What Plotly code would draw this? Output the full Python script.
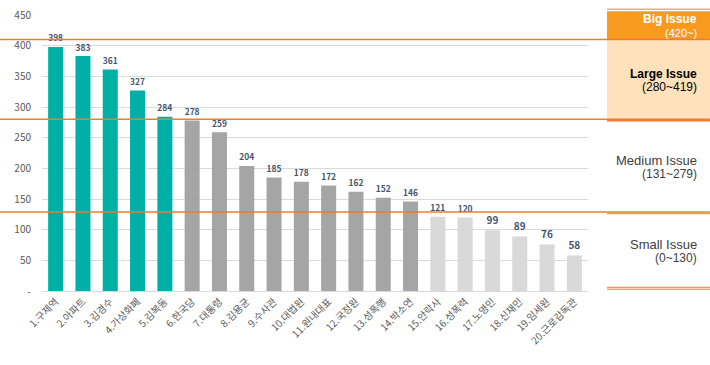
import plotly.graph_objects as go

categories = ["1.구제역", "2.아파트", "3.김경수", "4.가상화폐", "5.김복동", "6.한국당", "7.대통령",
              "8.김용균", "9.수사관", "10.대법원", "11.원내대표", "12.국정원", "13.성폭행", "14.박소연",
              "15.안락사", "16.성폭력", "17.노영민", "18.신재민", "19.임세원", "20.근로감독관"]
values = [398, 383, 361, 327, 284, 278, 259, 204, 185, 178, 172, 162, 152, 146, 121, 120, 99, 89, 76, 58]
levels = ["large"] * 5 + ["medium"] * 9 + ["small"] * 6
level_colors = {"large": "#00B0A6", "medium": "#A5A5A5", "small": "#D9D9D9"}
y_ticks = [0, 50, 100, 150, 200, 250, 300, 350, 400, 450]
y_ticktext = ["-"] + [str(v) for v in y_ticks[1:]]
Y_MAX = 450

FONT = "Noto Sans CJK KR"
PFONT = "Liberation Sans"
ORANGE = "#ED7D31"

fig = go.Figure()
fig.add_trace(go.Bar(
    x=categories, y=values,
    marker=dict(color=[level_colors[l] for l in levels], line=dict(width=0)),
    text=[str(v) for v in values], textposition="outside",
    textfont=dict(family=FONT, size=10, color="#44546A", weight="bold"),
    cliponaxis=False, hoverinfo="skip",
))

PX0 = 1.0348   # panel left (paper)
PX1 = 1.2234   # panel right (paper)
XL = -0.0769   # figure left edge (paper)

def p(v):
    return v / Y_MAX

def hline(x0, x1, v, width, color=ORANGE):
    return dict(type="line", xref="paper", yref="paper", x0=x0, x1=x1, y0=p(v), y1=p(v),
                line=dict(color=color, width=width))

shapes = [
    dict(type="rect", xref="paper", yref="paper", x0=PX0, x1=PX1, y0=p(410), y1=p(456),
         fillcolor="#F89A1E", line=dict(width=0), layer="below"),
    hline(PX0, PX1, 459.5, 1),
    dict(type="rect", xref="paper", yref="paper", x0=PX0, x1=PX1, y0=p(280), y1=p(410),
         fillcolor="#FFE2BC", line=dict(width=0), layer="below"),
    hline(XL, PX1, 410, 1.5),
    hline(XL, PX0, 280, 1.5),
    hline(PX0, PX1, 279, 3),
    hline(XL, PX1, 129, 1.5),
    hline(PX0, PX1, 126, 1),
    hline(PX0, PX1, 6, 1),
    hline(PX0, PX1, 3, 1),
]

TX = 1.2015
ann = []
def add(text, y, size, color, bold=False):
    ann.append(dict(xref="paper", yref="paper", x=TX, y=p(y), text=text, showarrow=False,
                    xanchor="right", yanchor="middle", borderpad=0,
                    font=dict(family=PFONT, size=size, color=color,
                              weight="bold" if bold else "normal")))

add("Big Issue", 443, 12, "white", True)
add("(420~)", 421, 11, "white")
add("Large Issue", 353, 12, "#000000", True)
add("(280~419)", 332, 12, "#000000")
add("Medium Issue", 212, 13, "#404040")
add("(131~279)", 191, 12, "#404040")
add("Small Issue", 76, 13, "#404040")
add("(0~130)", 54, 12, "#404040")

fig.update_layout(
    width=710, height=365,
    margin=dict(l=42, r=122, t=15, b=74),
    paper_bgcolor="white", plot_bgcolor="white",
    bargap=0.45, showlegend=False,
    shapes=shapes, annotations=ann,
    font=dict(family=FONT),
    xaxis=dict(tickangle=-45, tickfont=dict(family=FONT, size=10, color="#595959"),
               showline=True, linecolor="#D9D9D9", linewidth=1, ticks="",
               showgrid=False, fixedrange=True, automargin=False),
    yaxis=dict(range=[0, Y_MAX], tickvals=y_ticks, ticktext=y_ticktext,
               tickfont=dict(family=FONT, size=10, color="#595959"),
               ticklabelstandoff=10,
               showgrid=True, gridcolor="#D9D9D9", gridwidth=1,
               zeroline=False, showline=False, ticks="", fixedrange=True,
               automargin=False),
)

fig.write_html("out.html")
